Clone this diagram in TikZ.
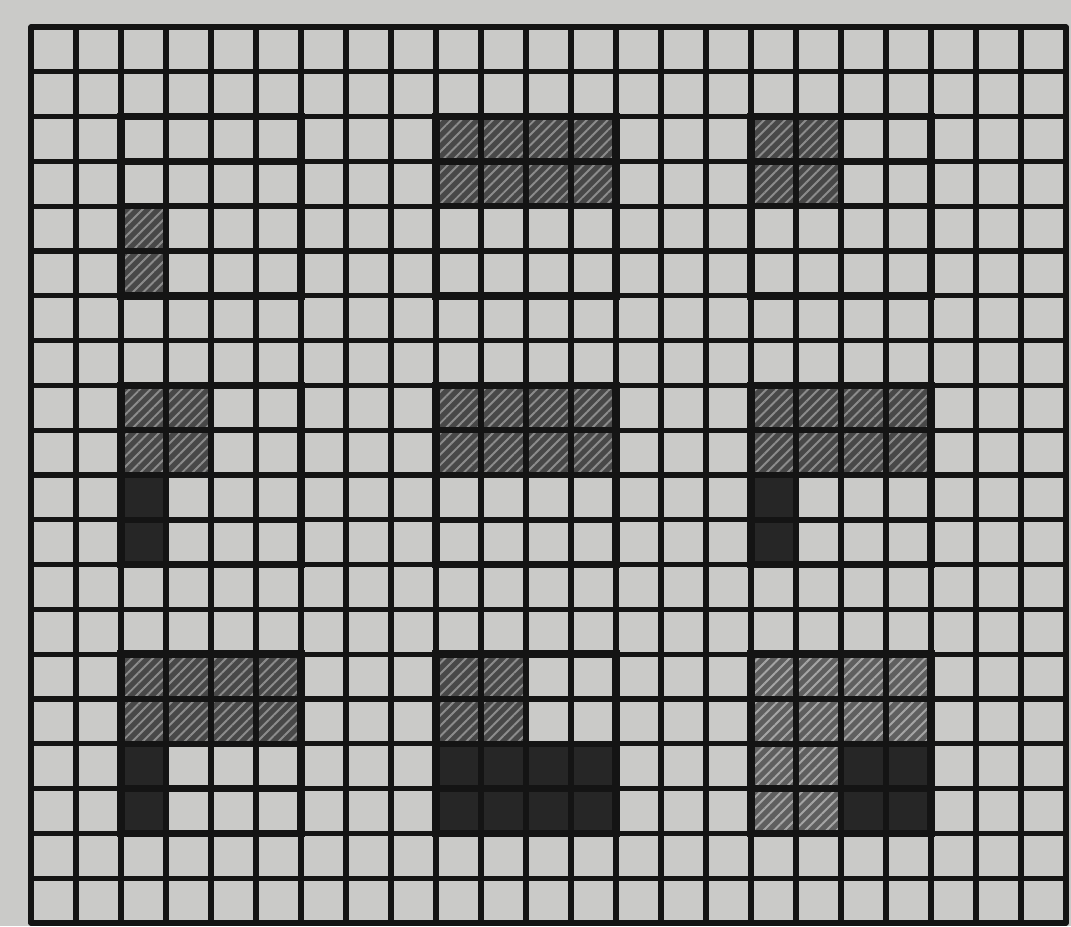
\documentclass[tikz,border=0pt]{standalone}
\usetikzlibrary{patterns.meta}
\definecolor{paper}{RGB}{202,202,200}
\definecolor{ink}{RGB}{20,20,20}
\definecolor{hatchbg}{RGB}{72,72,72}
\definecolor{hatchln}{RGB}{140,140,140}
\definecolor{hatchbgl}{RGB}{95,95,95}
\definecolor{hatchlnl}{RGB}{165,165,165}
\definecolor{solid}{RGB}{38,38,38}
\tikzset{
  gridline/.style={draw=ink, line width=3pt, line cap=round},
  blockline/.style={draw=ink, line width=4.4pt, line join=miter},
  innerline/.style={draw=ink, line width=3.6pt},
  hatchcell/.style={fill=hatchbg, postaction={pattern={Lines[angle=45,distance=4.2pt,line width=1.1pt]}, pattern color=hatchln}},
  hatchlight/.style={fill=hatchbgl, postaction={pattern={Lines[angle=45,distance=4.2pt,line width=1.1pt]}, pattern color=hatchlnl}},
  solidcell/.style={fill=solid},
}
\newcommand\hcell[2]{\path[hatchcell] (#1,#2) rectangle ++(1,1);}
\newcommand\hlcell[2]{\path[hatchlight] (#1,#2) rectangle ++(1,1);}
\newcommand\scell[4]{\path[solidcell] (#1,#2) rectangle ++(#3,#4);}
\begin{document}
\begin{tikzpicture}[x=0.9cm, y=-0.896cm]
\fill[paper] (-0.689,-0.603) rectangle (23.111,20.067);
\useasboundingbox (-0.689,-0.603) rectangle (23.111,20.067);
% Block A (top-left)
\hcell{2}{4}\hcell{2}{5}
% Block B (top-middle)
\foreach \c in {9,...,12}{\hcell{\c}{2}\hcell{\c}{3}}
% Block C (top-right)
\foreach \c in {16,17}{\hcell{\c}{2}\hcell{\c}{3}}
% Block D (middle-left)
\foreach \c in {2,3}{\hcell{\c}{8}\hcell{\c}{9}}
\scell{2}{10}{1}{2}
% Block E (middle-middle)
\foreach \c in {9,...,12}{\hcell{\c}{8}\hcell{\c}{9}}
% Block F (middle-right)
\foreach \c in {16,...,19}{\hcell{\c}{8}\hcell{\c}{9}}
\scell{16}{10}{1}{2}
% Block G (bottom-left)
\foreach \c in {2,...,5}{\hcell{\c}{14}\hcell{\c}{15}}
\scell{2}{16}{1}{2}
% Block H (bottom-middle)
\foreach \c in {9,10}{\hcell{\c}{14}\hcell{\c}{15}}
\scell{9}{16}{4}{2}
% Block I (bottom-right)
\foreach \c in {16,...,19}{\hlcell{\c}{14}\hlcell{\c}{15}}
\foreach \c in {16,17}{\hlcell{\c}{16}\hlcell{\c}{17}}
\scell{18}{16}{2}{2}
% grid
\foreach \i in {0,...,23}{\draw[gridline] (\i,0) -- (\i,20);}
\foreach \j in {0,...,20}{\draw[gridline] (0,\j) -- (23,\j);}
% block outlines
\foreach \bx in {2,9,16}{
  \foreach \by in {2,8,14}{
    \draw[blockline] (\bx,\by) rectangle ++(4,4);
    \foreach \k in {1,2,3}{
      \draw[innerline] (\bx+\k,\by) -- ++(0,4);
      \draw[innerline] (\bx,\by+\k) -- ++(4,0);
    }
  }
}
\end{tikzpicture}
\end{document}
